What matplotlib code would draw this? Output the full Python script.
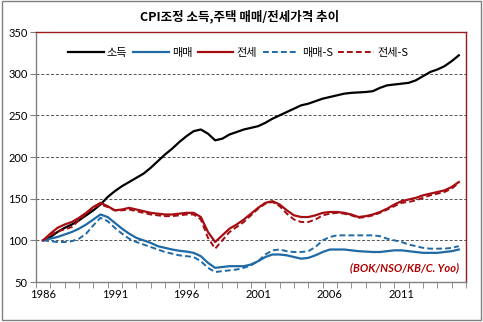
import numpy as np
import matplotlib
matplotlib.use('Agg')
import matplotlib.pyplot as plt
from matplotlib.patches import Rectangle

plt.rcParams['font.family'] = ['Noto Sans CJK KR', 'DejaVu Sans']

# half-year points, 1986.0 .. 2015.0
years = np.arange(1986.0, 2015.01, 0.5)

income = [100, 104, 110, 115, 119, 124, 130, 136, 143, 152,
          159, 165, 170, 175, 180, 187, 195, 203, 210, 218,
          225, 231, 233, 228, 220, 222, 227, 230, 233, 235,
          237, 241, 246, 250, 254, 258, 262, 264, 267, 270,
          272, 274, 276, 277, 277.5, 278, 279, 283, 286, 287,
          288, 289, 292, 297, 302, 305, 309, 315, 322]

sale = [100, 102, 104, 107, 110, 114, 119, 125, 131, 128,
        121, 114, 108, 103, 100, 97, 93, 91, 89, 87.5,
        86.5, 85, 81, 73, 67, 68, 69, 69, 69, 71,
        75, 80, 83, 83, 82, 80, 78, 79, 82, 86,
        89, 89, 89, 88, 87, 86.5, 86, 86, 87, 88,
        88, 87, 86, 85, 85, 85, 86, 87, 89]

jeonse = [100, 108, 115, 119, 122, 127, 133, 140, 145, 141,
          136, 137, 139, 137, 135, 133, 132, 131, 131, 132,
          133, 133, 128, 110, 98, 106, 114, 119, 125, 132,
          139, 145, 147, 143, 136, 130, 128, 128, 130, 133,
          134, 134, 133, 131, 128, 129, 131, 134, 138, 143,
          147, 149, 151, 154, 156, 158, 160, 164, 170]

sale_s = [100, 99, 98, 98, 99, 102, 108, 118, 127, 123,
          115, 108, 102, 98, 95, 92, 89, 86, 84, 82,
          81, 80, 75, 67, 62, 63, 64, 65, 67, 70,
          75, 83, 88, 89, 87, 86, 86, 87, 92, 100,
          104, 106, 106, 106, 106, 106, 106, 105, 102, 100,
          98, 95, 93, 91, 90, 90, 90, 91, 93]

jeonse_s = [100, 106, 111, 113, 116, 124, 132, 139, 143, 140,
            136, 136, 137, 135, 133, 131, 130, 129, 129, 130,
            131, 131, 125, 103, 90, 100, 110, 116, 122, 130,
            138, 144, 146, 141, 132, 125, 122, 122, 125, 130,
            132, 133, 132, 130, 127, 128, 130, 133, 137, 141,
            145, 146, 148, 151, 154, 156, 158, 162, 169]

label_years = [1986, 1991, 1996, 2001, 2006, 2011]
y_ticks = [50, 100, 150, 200, 250, 300, 350]

BLUE = '#1f6aa5'
RED = '#a50d12'

fig = plt.figure(figsize=(4.83, 3.22), dpi=100)
ax = fig.add_axes([0.0745, 0.1242, 0.8903, 0.7764])

ax.plot(years, income, color='black', lw=1.6, label='소득')
ax.plot(years, sale, color=BLUE, lw=1.6, label='매매')
ax.plot(years, jeonse, color=RED, lw=1.6, label='전세')
ax.plot(years, sale_s, color=BLUE, lw=1.4, ls=(0, (3, 1.6)), label='매매-S')
ax.plot(years, jeonse_s, color=RED, lw=1.4, ls=(0, (3, 1.6)), label='전세-S')

ax.set_xlim(1985.5, 2015.5)
ax.set_ylim(50, 350)
ax.set_yticks(y_ticks)
ax.set_xticks(label_years)
ax.set_xticks(np.arange(1985.5, 2015.6, 1.0), minor=True)
ax.tick_params(axis='x', which='major', length=0, pad=5, labelsize=8)
ax.tick_params(axis='x', which='minor', length=4, direction='out', color='#808080')
ax.tick_params(axis='y', length=4, direction='out', color='#808080', labelsize=8, pad=2)
for lab in ax.get_xticklabels() + ax.get_yticklabels():
    lab.set_family(['Lato', 'DejaVu Sans'])

for yv in y_ticks[1:-1]:
    ax.axhline(yv, color='#555555', lw=0.7, ls=(0, (3, 2)), zorder=0)

ax.spines['left'].set_color('#808080')
ax.spines['bottom'].set_color('#808080')
ax.spines['top'].set_color('#9b1c1c')
ax.spines['right'].set_color('#9b1c1c')
for s in ax.spines.values():
    s.set_linewidth(1.0)

ax.legend(loc='upper center', bbox_to_anchor=(0.47, 0.975), ncol=5, frameon=False,
          fontsize=8, handlelength=3.2, handletextpad=0.3, columnspacing=0.5)

ax.text(0.985, 0.035, '(BOK/NSO/KB/C. Yoo)', transform=ax.transAxes, ha='right', va='bottom',
        color='#b00000', fontsize=8, fontstyle='italic', fontweight='bold',
        family=['Lato', 'DejaVu Sans'])

fig.text(0.497, 0.948, 'CPI조정 소득,주택 매매/전세가격 추이', ha='center', va='center',
         fontsize=9, fontweight='bold')

fig.patches.append(Rectangle((0.004, 0.006), 0.992, 0.99, transform=fig.transFigure,
                             fill=False, edgecolor='#808080', lw=1.0))

fig.savefig('out.png', dpi=100)
